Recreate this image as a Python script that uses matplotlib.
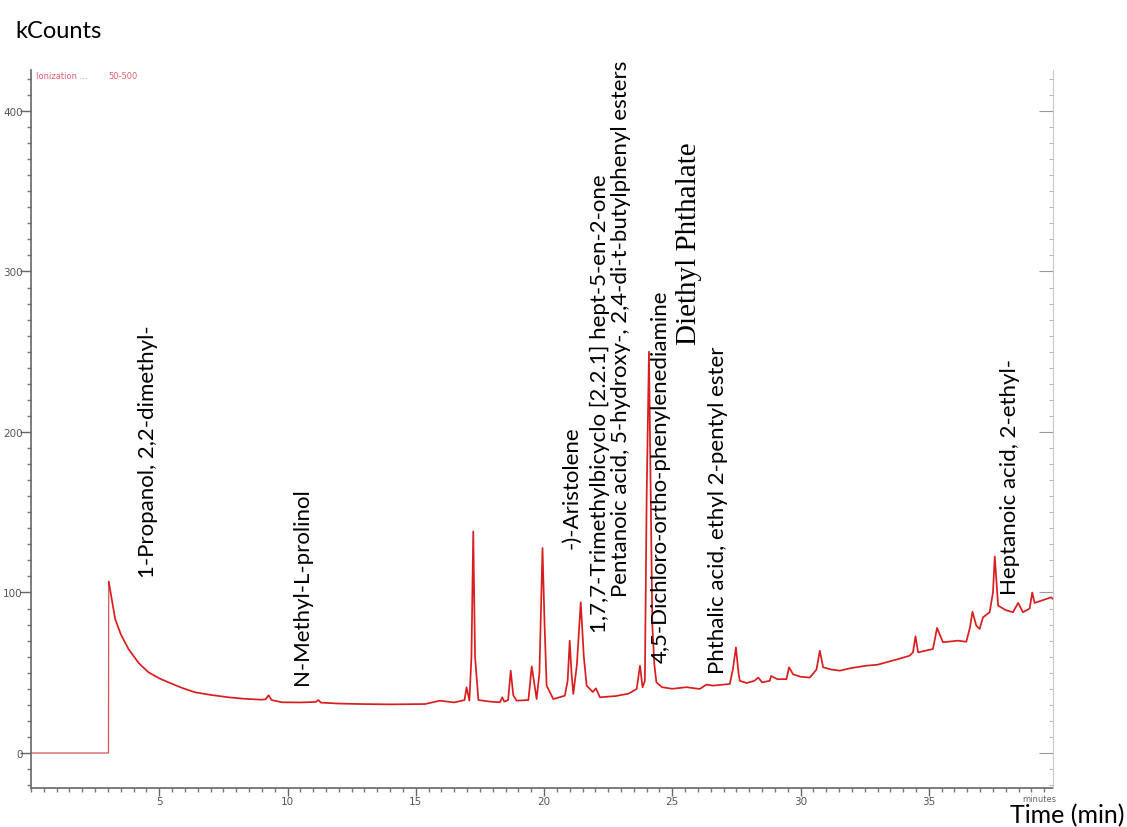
import matplotlib
matplotlib.use("Agg")
import matplotlib.pyplot as plt
from matplotlib.ticker import MultipleLocator

# Chromatogram trace (time in minutes, signal in kCounts)
time_min = [0.0, 3.02, 3.03, 3.28, 3.5, 3.8, 4.2, 4.58, 5.0, 5.36, 5.9, 6.4, 7.0, 7.7, 8.3,
            9.0, 9.15, 9.26, 9.38, 9.78, 10.5, 11.1, 11.2, 11.3, 12.0, 12.9, 14.0, 15.36,
            15.94, 16.5, 16.9, 16.98, 17.09, 17.17, 17.24, 17.31, 17.44, 17.9, 18.28, 18.37,
            18.45, 18.6, 18.7, 18.8, 18.93, 19.39, 19.52, 19.71, 19.82, 19.94, 20.02, 20.1,
            20.36, 20.81, 20.92, 21.0, 21.07, 21.14, 21.28, 21.43, 21.55, 21.66, 21.9, 22.02,
            22.18, 22.8, 23.3, 23.61, 23.74, 23.84, 23.93, 24.0, 24.09, 24.16, 24.22, 24.3,
            24.38, 24.6, 25.0, 25.55, 26.07, 26.33, 26.6, 27.24, 27.36, 27.48, 27.58, 27.63,
            27.9, 28.2, 28.35, 28.5, 28.8, 28.85, 29.1, 29.45, 29.55, 29.71, 30.0, 30.36,
            30.62, 30.75, 30.88, 31.2, 31.53, 32.0, 32.57, 33.0, 33.35, 33.8, 34.25, 34.38,
            34.48, 34.58, 35.16, 35.32, 35.55, 36.14, 36.46, 36.6, 36.7, 36.85, 36.98, 37.11,
            37.37, 37.5, 37.57, 37.7, 38.0, 38.28, 38.48, 38.67, 38.93, 39.03, 39.12, 39.4,
            39.77, 39.84]
kcounts = [0.0, 0.0, 106.7, 83.5, 74.0, 64.8, 56.0, 50.3, 46.5, 44.0, 40.5, 37.8, 36.2, 34.7, 33.8,
           33.2, 33.5, 36.0, 33.0, 31.6, 31.5, 31.8, 33.0, 31.4, 30.8, 30.5, 30.3, 30.5,
           32.6, 31.5, 33.0, 40.9, 32.6, 60.0, 138.0, 60.0, 33.0, 32.0, 31.6, 34.7,
           32.0, 33.0, 51.3, 36.0, 32.6, 33.0, 54.0, 33.6, 50.0, 127.7, 80.0, 42.0,
           33.6, 35.7, 45.0, 70.0, 50.0, 36.8, 55.0, 93.9, 60.0, 42.0, 38.0, 40.3,
           34.7, 35.5, 37.0, 39.9, 54.4, 40.9, 45.0, 160.0, 250.0, 160.0, 80.0, 55.0,
           44.0, 41.0, 40.0, 41.0, 39.9, 42.6, 42.0, 43.0, 52.0, 65.8, 50.0, 45.0,
           43.6, 45.0, 47.0, 44.0, 45.0, 48.0, 46.0, 46.0, 53.4, 49.0, 47.5, 47.0,
           52.0, 63.7, 53.4, 52.0, 51.3, 53.0, 54.4, 55.0, 56.5, 58.5, 60.6, 62.7,
           72.7, 62.7, 64.8, 77.9, 69.0, 70.0, 69.3, 78.0, 88.0, 79.3, 77.3, 84.5,
           87.7, 100.0, 122.5, 91.8, 89.0, 87.7, 93.5, 87.7, 90.0, 100.0, 93.5, 95.0,
           97.0, 96.0]

# Peak annotations: label, x (min), y of the label foot (kCounts)
labels = ["1-Propanol, 2,2-dimethyl-", "N-Methyl-L-prolinol", "-)-Aristolene",
          "1,7,7-Trimethylbicyclo [2.2.1] hept-5-en-2-one",
          "Pentanoic acid, 5-hydroxy-, 2,4-di-t-butylphenyl esters",
          "4,5-Dichloro-ortho-phenylenediamine", "Phthalic acid, ethyl 2-pentyl ester",
          "Heptanoic acid, 2-ethyl-"]
label_x = [4.57, 10.57, 21.07, 22.18, 23.0, 24.55, 26.8, 38.15]
label_y = [109.7, 43.0, 128.0, 75.4, 97.8, 56.7, 50.0, 99.0]

x_ticks = [5, 10, 15, 20, 25, 30, 35]
y_ticks = [0, 100, 200, 300, 400]

fig = plt.figure(figsize=(11.27, 8.28), dpi=100)
ax = fig.add_axes([31/1127, 1 - 789/828, (1053 - 31)/1127, (789 - 71)/828])

# flat part before the solvent delay, slightly lighter
ax.plot(time_min[:3], kcounts[:3], color="#d05555", lw=0.9)
ax.plot(time_min[2:], kcounts[2:], color="#d81e1e", lw=1.25)

ax.set_xlim(0, 39.84)
ax.set_ylim(-21.8, 425.5)

ax.spines["top"].set_visible(False)
ax.spines["right"].set_visible(False)
for side in ["left", "bottom"]:
    ax.spines[side].set_color("#666666")
    ax.spines[side].set_linewidth(1.2)

ax.set_xticks(x_ticks)
ax.set_yticks(y_ticks)
ax.xaxis.set_minor_locator(MultipleLocator(0.5))
ax.yaxis.set_minor_locator(MultipleLocator(10))
ax.tick_params(axis="both", which="major", direction="out", color="#666666",
               labelcolor="#555555", labelsize=7.5, width=1.0)
ax.tick_params(axis="y", which="major", length=8, pad=-2)
ax.tick_params(axis="x", which="major", length=6, pad=0)
ax.tick_params(axis="both", which="minor", direction="out", length=3, color="#777777", width=1.0)
for lbl in ax.get_xticklabels() + ax.get_yticklabels():
    lbl.set_family("DejaVu Sans")

# right-hand frame with inward ticks
ax2 = ax.twinx()
ax2.set_ylim(ax.get_ylim())
ax2.spines["top"].set_visible(False)
ax2.spines["left"].set_visible(False)
ax2.spines["bottom"].set_visible(False)
ax2.spines["right"].set_color("#c8c8c8")
ax2.set_yticks(y_ticks)
ax2.yaxis.set_minor_locator(MultipleLocator(10))
ax2.tick_params(axis="y", which="major", direction="in", length=10, color="#999999", labelright=False)
ax2.tick_params(axis="y", which="minor", direction="in", length=3, color="#aaaaaa")

for text, x, y in zip(labels, label_x, label_y):
    ax.text(x, y, text, rotation=90, ha="center", va="bottom", fontsize=16,
            family="Lato", color="black")
ax.text(25.64, 254.8, "Diethyl Phthalate", rotation=90, ha="center", va="bottom",
        fontsize=21, family="Liberation Serif", color="black")

# instrument header
ax.text(0.2, 425, "Ionization ...", fontsize=6, color="#e06070", va="top")
ax.text(3.0, 425, "50-500", fontsize=6, color="#e06070", va="top")
ax.text(39.3, -25.5, "minutes", fontsize=6, color="#666666", ha="center", va="top")

fig.text(15/1127, 1 - 31/828, "kCounts", fontsize=17, family="Lato", va="center", ha="left")
fig.text(1125/1127, 1/828, "Time (min)", fontsize=18, family="Lato", va="bottom", ha="right")

fig.savefig("out.png", dpi=100)
